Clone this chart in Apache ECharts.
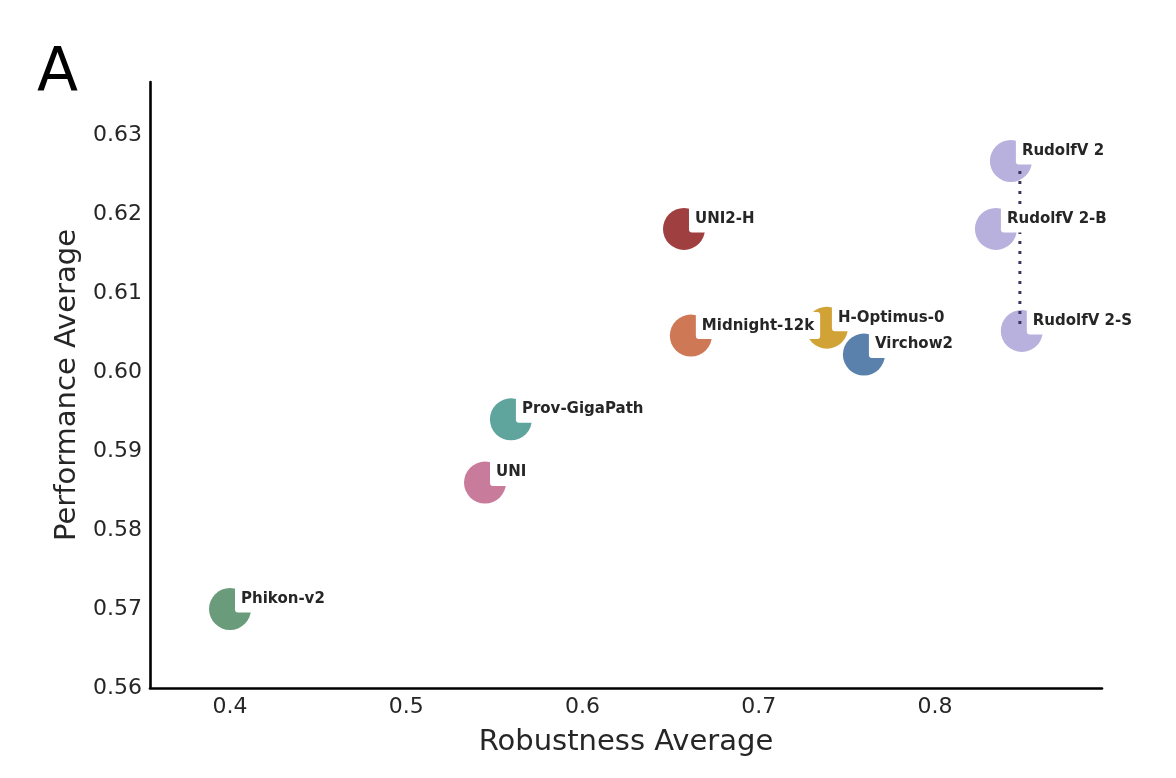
<!doctype html>
<html lang="en">
<head>
    <meta charset="UTF-8">
    <title>Robustness vs Performance</title>
    <script src="https://cdn.jsdelivr.net/npm/echarts@6/dist/echarts.min.js"></script>
    <style>
        html, body { margin: 0; padding: 0; background: #fff; }
        #mainChart { width: 1176px; height: 778px; }
    </style>
</head>
<body>
<div id="mainChart"></div>
<script>
    // model names, colours and their averages
    const models = ['Phikon-v2', 'UNI', 'Prov-GigaPath', 'UNI2-H', 'Midnight-12k',
        'H-Optimus-0', 'Virchow2', 'RudolfV 2', 'RudolfV 2-B', 'RudolfV 2-S'];
    const robustness = [0.400, 0.5447, 0.5594, 0.6576, 0.6615, 0.7387, 0.7597, 0.8431, 0.8346, 0.8493];
    const performance = [0.570, 0.586, 0.594, 0.6181, 0.6046, 0.6056, 0.6022, 0.6267, 0.6181, 0.6052];
    const colors = ['#6a9b7b', '#c97b9b', '#5fa59d', '#a03f3f', '#cf7856',
        '#d1a236', '#5a80ac', '#b8b0dd', '#b8b0dd', '#b8b0dd'];

    // dotted connector between the RudolfV 2 variants
    const linkX = [0.8482, 0.8482];
    const linkY = [0.6267, 0.6052];

    const xTicks = [0.4, 0.5, 0.6, 0.7, 0.8];
    const yTicks = [0.56, 0.57, 0.58, 0.59, 0.60, 0.61, 0.62, 0.63];

    const font = 'DejaVu Sans';
    const textColor = '#262626';

    function chartInit() {
        let myChart = echarts.init(document.getElementById('mainChart'));

        let points = models.map(function (name, i) {
            return {
                name: name,
                value: [robustness[i], performance[i]],
                itemStyle: {color: colors[i], opacity: 1}
            };
        });

        let option = {
            animation: false,
            grid: {left: 150, right: 74, top: 82, bottom: 90},
            graphic: [{
                type: 'text',
                left: 37,
                top: 44,
                style: {text: 'A', font: '60px "DejaVu Sans"', fill: '#000'}
            }],
            xAxis: {
                type: 'value',
                min: 0.3546,
                max: 0.8948,
                name: 'Robustness Average',
                nameLocation: 'middle',
                nameGap: 40,
                nameTextStyle: {fontFamily: font, fontSize: 29, color: textColor},
                axisLine: {lineStyle: {color: '#000', width: 2.6}},
                axisTick: {show: false},
                splitLine: {show: false},
                axisLabel: {
                    customValues: xTicks,
                    margin: 8,
                    fontFamily: font,
                    fontSize: 22,
                    color: textColor,
                    formatter: function (v) { return v.toFixed(1); }
                }
            },
            yAxis: {
                type: 'value',
                min: 0.56,
                max: 0.6367,
                name: 'Performance Average',
                nameLocation: 'middle',
                nameGap: 68,
                nameTextStyle: {fontFamily: font, fontSize: 29, color: textColor},
                axisLine: {show: true, lineStyle: {color: '#000', width: 2.6}},
                axisTick: {show: false},
                splitLine: {show: false},
                axisLabel: {
                    customValues: yTicks,
                    margin: 8,
                    fontFamily: font,
                    fontSize: 22,
                    color: textColor,
                    formatter: function (v) { return v.toFixed(2); }
                }
            },
            series: [
                {
                    // the markers
                    type: 'scatter',
                    z: 2,
                    symbolSize: 42,
                    silent: true,
                    itemStyle: {opacity: 1},
                    data: points
                },
                {
                    // connector sits above markers, below labels
                    type: 'line',
                    z: 3,
                    silent: true,
                    symbol: 'none',
                    lineStyle: {color: '#3b335f', width: 3, type: [3, 7]},
                    data: [[linkX[0], linkY[0]], [linkX[1], linkY[1]]]
                },
                {
                    // labels only, with white boxes that cut into the markers
                    type: 'scatter',
                    z: 4,
                    symbolSize: 42,
                    silent: true,
                    itemStyle: {color: 'rgba(0,0,0,0)', opacity: 1},
                    label: {
                        show: true,
                        opacity: 1,
                        position: [26, 11],
                        align: 'left',
                        verticalAlign: 'middle',
                        formatter: '{b}',
                        fontFamily: font,
                        fontWeight: 'bold',
                        fontSize: 15,
                        color: textColor,
                        backgroundColor: '#fff',
                        borderRadius: 3,
                        padding: [6, 6, 6, 6]
                    },
                    data: models.map(function (name, i) {
                        return {name: name, value: [robustness[i], performance[i]]};
                    })
                }
            ]
        };

        myChart.setOption(option);
    }

    chartInit();
</script>
</body>
</html>
